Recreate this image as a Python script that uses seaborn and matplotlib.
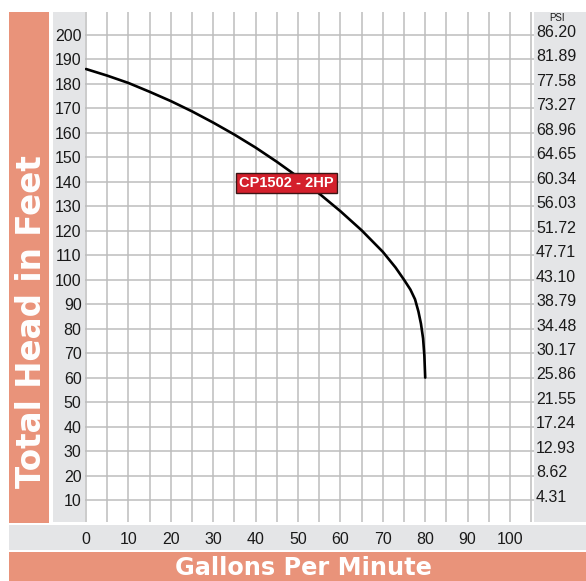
import matplotlib
matplotlib.use("Agg")
import matplotlib.pyplot as plt
from matplotlib.patches import Rectangle
from matplotlib.transforms import ScaledTranslation
import seaborn as sns
import pandas as pd

# Pump performance curve: flow (GPM) vs total head (ft)
gpm = [0, 5, 10, 15, 20, 25, 30, 35, 40, 45, 50, 55, 60, 65, 70, 73, 75, 76.5, 77.6, 78.4, 79.0, 79.5, 79.8, 80.0]
head = [186.1, 183.4, 180.4, 176.8, 173.0, 168.8, 164.2, 159.3, 154.0, 148.2, 142.0, 135.2, 128.0, 120.2, 111.4,
        105.0, 100.0, 96.0, 92.0, 87.0, 82.0, 76.0, 69.0, 60.0]

x_ticks = list(range(0, 101, 10))
head_ticks = list(range(10, 201, 10))
psi_labels = ["4.31", "8.62", "12.93", "17.24", "21.55", "25.86", "30.17", "34.48", "38.79", "43.10",
              "47.71", "51.72", "56.03", "60.34", "64.65", "68.96", "73.27", "77.58", "81.89", "86.20"]
model_label = "CP1502 - 2HP"
model_x, model_y = 47.3, 139.5

ORANGE = "#E9937A"
GRAY = "#E4E5E7"
GRID = "#BDBDBD"

sns.set_theme(style="white")
plt.rcParams["font.family"] = ["Liberation Sans", "DejaVu Sans"]

W, H = 586, 581
fig = plt.figure(figsize=(W / 100, H / 100), dpi=100)


def band(x0, y0, x1, y1, color):
    # rectangle given in pixel coordinates measured from the top-left corner
    fig.patches.append(Rectangle((x0 / W, 1 - y1 / H), (x1 - x0) / W, (y1 - y0) / H,
                                 transform=fig.transFigure, facecolor=color, edgecolor="none", zorder=-5))


band(9, 12, 49, 523, ORANGE)
band(53, 12, 85, 522, GRAY)
band(534, 12, 586, 522, GRAY)
band(9, 525, 586, 550, GRAY)
band(9, 552, 586, 581, ORANGE)

ax = fig.add_axes([85 / W, 1 - 522 / H, (534 - 85) / W, (522 - 12) / H])
ax.set_facecolor("white")

df = pd.DataFrame({"GPM": gpm, "Head": head})
sns.lineplot(data=df, x="GPM", y="Head", sort=False, color="black", linewidth=1.9, ax=ax, zorder=3)

ax.set_xlim(-0.24, 105.66)
ax.set_ylim(1.0, 209.4)

ax.set_xticks(x_ticks)
ax.set_xticks([v + 5 for v in x_ticks], minor=True)
ax.set_yticks(head_ticks)
ax.grid(True, which="both", axis="x", color=GRID, linewidth=1.1)
ax.grid(True, which="major", axis="y", color=GRID, linewidth=1.1)
ax.set_axisbelow(True)
for s in ax.spines.values():
    s.set_visible(False)

ax.tick_params(axis="both", which="both", length=0)
ax.tick_params(axis="y", pad=2.5, labelsize=11.5, labelcolor="#1a1a1a")
ax.tick_params(axis="x", pad=7.5, labelsize=11.5, labelcolor="#1a1a1a")
ax.set_xlabel("")
ax.set_ylabel("")

# PSI scale on the right, equivalent to the head in feet
ax2 = ax.twinx()
ax2.set_ylim(ax.get_ylim())
ax2.set_yticks(head_ticks)
ax2.set_yticklabels(psi_labels)
ax2.tick_params(axis="y", length=0, pad=1.5, labelsize=11.5, labelcolor="#1a1a1a")
for s in ax2.spines.values():
    s.set_visible(False)
ax2.grid(False)
shift = ScaledTranslation(0, 3 / 72, fig.dpi_scale_trans)
for lab in ax2.get_yticklabels():
    lab.set_transform(lab.get_transform() + shift)

fig.text(557 / W, 1 - 18 / H, "PSI", ha="center", va="center", fontsize=7, color="#1a1a1a")

ax.text(model_x, model_y, model_label, ha="center", va="center", color="white", fontsize=10.5,
        fontweight="bold", family=["Liberation Sans Narrow", "Liberation Sans", "DejaVu Sans"], zorder=5,
        bbox=dict(boxstyle="square,pad=0.2", facecolor="#D4202C", edgecolor="#3b1515", linewidth=1.0))

fig.text(303 / W, 1 - 568 / H, "Gallons Per Minute", ha="center", va="center", color="white",
         fontsize=17.3, fontweight="bold", family=["DejaVu Sans"])
fig.text(32 / W, 1 - 322 / H, "Total Head in Feet", ha="center", va="center", color="white",
         fontsize=23.5, fontweight="bold", rotation=90, family=["DejaVu Sans"])

fig.savefig("out.png", dpi=100)
